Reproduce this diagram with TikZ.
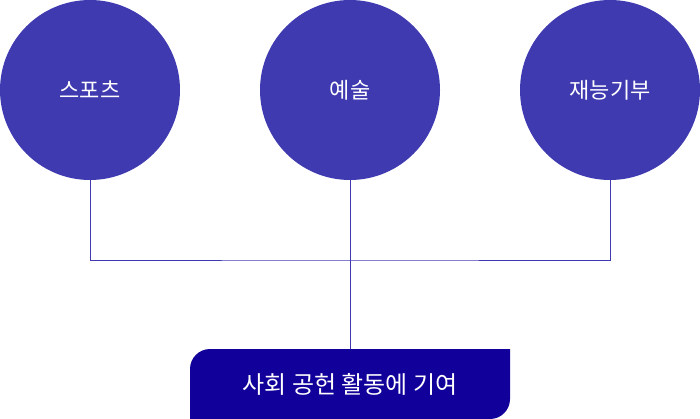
\documentclass[tikz,border=0pt]{standalone}
\usepackage{fontspec}
\setmainfont{Noto Sans CJK KR}
\usepackage{tikz}
\usetikzlibrary{positioning}
\definecolor{bubblecol}{HTML}{3F3AB0}
\definecolor{goalcol}{HTML}{12009A}
\tikzset{bubble/.style = {circle, fill = bubblecol, text = white, inner sep = 0,
                          minimum size = 180pt, font = \fontsize{22}{22}\selectfont}}
\tikzset{goalbox/.style = {inner sep = 0, minimum width = 320pt, minimum height = 70pt,
                           text = white, font = \fontsize{24}{24}\selectfont}}
\tikzset{link/.style = {draw = bubblecol, line width = .9pt}}

\begin{document}
\begin{tikzpicture}[x = 1pt, y = -1pt]
          \useasboundingbox (0, 0) rectangle (700, 419);
          \node [bubble] (sports) at (90, 90) {스포츠};
          \node [bubble] (arts) at (350, 90) {예술};
          \node [bubble] (talent) at (610, 90) {재능기부};
          \coordinate (join) at (350, 260);
          \fill [goalcol] (190, 419) [rounded corners = 20pt] -- (190, 349)
                [sharp corners] -- (510, 349) [rounded corners = 20pt] -- (510, 419)
                [sharp corners] -- cycle;
          \node [goalbox] (goal) at (350, 384) {사회 공헌 활동에 기여};
          \draw [link] (sports.south) |- (join) -| (talent.south);
          \draw [link] (arts.south) -- (goal.north);
        \end{tikzpicture}
\end{document}
